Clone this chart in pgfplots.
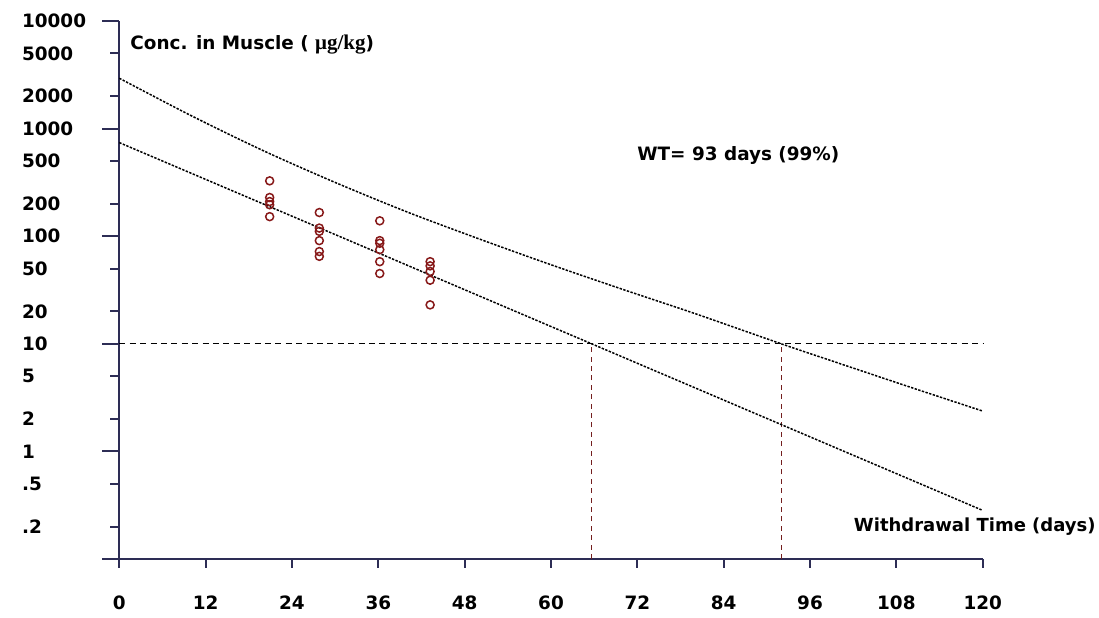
\documentclass[border=0pt]{standalone}
\usepackage{fontspec}
\setmainfont{DejaVu Sans}
\newfontfamily\seriffont{Liberation Serif}
\usepackage{pgfplots}
\pgfplotsset{compat=1.18}
\definecolor{axiscol}{RGB}{45,45,85}
\definecolor{ptcol}{RGB}{135,25,25}
\definecolor{vcol}{RGB}{115,30,30}
\begin{document}
\begin{tikzpicture}
\path[use as bounding box] (0,0) rectangle (549.5pt,308.5pt);
\begin{axis}[
  at={(59.65pt,29pt)}, anchor=south west,
  scale only axis, width=431.7pt, height=269pt,
  xmin=0, xmax=120, ymin=0.1, ymax=10000, ymode=log,
  axis lines=left,
  axis line style={axiscol, line width=1pt, -},
  tick style={axiscol, line width=1pt},
  tick align=outside,
  major tick length=4.5pt,
  xtick={0,12,...,120},
  ytick={0.2,0.5,2,5,20,50,200,500,2000,5000},
  yticklabels={.2,.5,2,5,20,50,200,500,2000,5000},
  minor ytick={},
  extra y ticks={0.1,1,10,100,1000,10000},
  extra y tick labels={,1,10,100,1000,10000},
  extra y tick style={major tick length=8.5pt, yticklabel style={xshift=4pt}},
  /pgf/number format/assume math mode=true,
  ticklabel style={font=\bfseries\fontsize{9.2}{10}\selectfont},
  yticklabel style={anchor=west, xshift=-47.65pt},
  xticklabel style={anchor=center, yshift=-17.5pt},
  clip=false,
]
\addplot[black, line width=0.55pt, dash pattern=on 3pt off 2.2pt] coordinates {(0,10) (120,10)};
\addplot[vcol, line width=0.6pt, dash pattern=on 2.5pt off 2.2pt] coordinates {(65.6,0.1) (65.6,10)};
\addplot[vcol, line width=0.6pt, dash pattern=on 2.5pt off 2.2pt] coordinates {(92,0.1) (92,10)};
\addplot[black, line width=0.75pt, dash pattern=on 1.2pt off 0.7pt] coordinates {(0,741) (120,0.283)};
\addplot[black, line width=0.75pt, dash pattern=on 1.2pt off 0.7pt, smooth] coordinates {
 (0,2938) (10,1318) (20,624) (30,316) (40,168) (50,94.4) (60,54.3) (70,32.0) (80,19.1) (92,10) (100,6.6) (110,3.94) (120,2.37)};
\addplot[only marks, mark=o, mark size=2pt, ptcol, line width=0.75pt] coordinates {
 (20.9,327) (20.9,229) (20.9,210) (20.9,196) (20.9,152)
 (27.8,166) (27.8,119) (27.8,111) (27.8,91) (27.8,72) (27.8,65)
 (36.2,139) (36.2,91) (36.2,86) (36.2,75) (36.2,58) (36.2,45)
 (43.2,58) (43.2,53) (43.2,47) (43.2,39) (43.2,23)};
\end{axis}
\node[anchor=west, font=\bfseries\fontsize{9.2}{10}\selectfont, inner sep=0pt] at (65pt,286pt) {Conc. in Muscle ( {\seriffont\fontsize{10.5}{11}\selectfont μg/kg})};
\node[anchor=west, font=\bfseries\fontsize{9.2}{10}\selectfont, inner sep=0pt] at (318.5pt,231pt) {WT= 93 days (99\%)};
\node[anchor=east, font=\bfseries\fontsize{9}{10}\selectfont, inner sep=0pt] at (548pt,45pt) {Withdrawal Time (days)};
\end{tikzpicture}
\end{document}
